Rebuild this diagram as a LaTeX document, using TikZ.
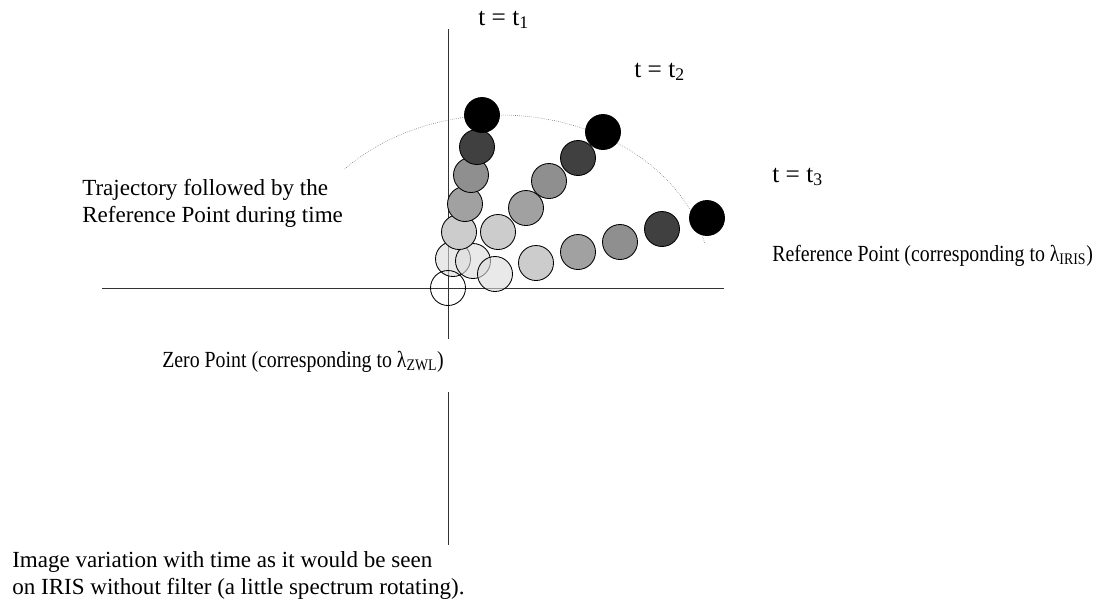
\documentclass[tikz,border=0pt]{standalone}
\usepackage{fontspec}
\setmainfont{Liberation Serif}
\usetikzlibrary{positioning}

\begin{document}
\begin{tikzpicture}[
  x=0.025cm, y=-0.025cm,
  every node/.style={font=\fontsize{16.4}{19.1}\selectfont},
  lbl/.style={anchor=base west, inner sep=0pt, align=left},
  big/.style={font=\fontsize{18}{20}\selectfont},
  spot/.style={circle, draw, line width=0.6pt, minimum size=0.875cm, inner sep=0pt},
  axis/.style={line width=0.5pt, black!80},
  trace/.style={densely dotted, line width=0.4pt, black!60}
]
  \useasboundingbox (0,0) rectangle (1109,607);

  % axes
  \coordinate (hl) at (102,288);
  \coordinate (hr) at (724,288);
  \coordinate (vtop) at (448,29);
  \coordinate (vcut) at (448,339);
  \coordinate (vres) at (448,392);
  \coordinate (vbot) at (448,545);
  \draw[axis] (hl) -- (hr);
  \draw[axis] (vtop) -- (vcut);
  \draw[axis] (vres) -- (vbot);

  % path of the reference point
  \draw[trace] plot[domain=13:138, samples=80] ({500+210*cos(\x)}, {280-165*sin(\x)});

  % spots, one row per instant, light to dark
  \foreach \col/\op/\xa/\ya/\xb/\yb/\xc/\yc [count=\k] in {
      black!14/0.6/453/259/473/261/495/274,
      black!20/1/459/232/498/232/536/263,
      black!37/1/465/204/526/208/578/252,
      black!44/1/471/175/549/181/620/242,
      black!75/1/477/147/578/158/662/229,
      black/1/482/115/603/132/707/218}{
    \node[spot, fill=\col, fill opacity=\op] (sa\k) at (\xa,\ya) {};
    \node[spot, fill=\col, fill opacity=\op] (sb\k) at (\xb,\yb) {};
    \node[spot, fill=\col, fill opacity=\op] (sc\k) at (\xc,\yc) {};
  }
  \node[spot] (zp) at (448,288) {};

  % labels
  \node[lbl, big] (t1) at (478,25) {t = t\textsubscript{1}};
  \node[lbl, big] (t2) at (634,77) {t = t\textsubscript{2}};
  \node[lbl, big] (t3) at (772,182) {t = t\textsubscript{3}};
  \node[lbl] (traj) at (82,222) {Trajectory followed by the\\Reference Point during time};
  \node[lbl] (refpt) at (772,261) {\scalebox{0.86}[1]{Reference Point (corresponding to λ\textsubscript{IRIS})}};
  \node[lbl] (zero) at (162,367) {\scalebox{0.86}[1]{Zero Point (corresponding to λ\textsubscript{ZWL})}};
  \node[lbl] (caption) at (12,594) {Image variation with time as it would be seen\\on IRIS without filter (a little spectrum rotating).};
\end{tikzpicture}
\end{document}
